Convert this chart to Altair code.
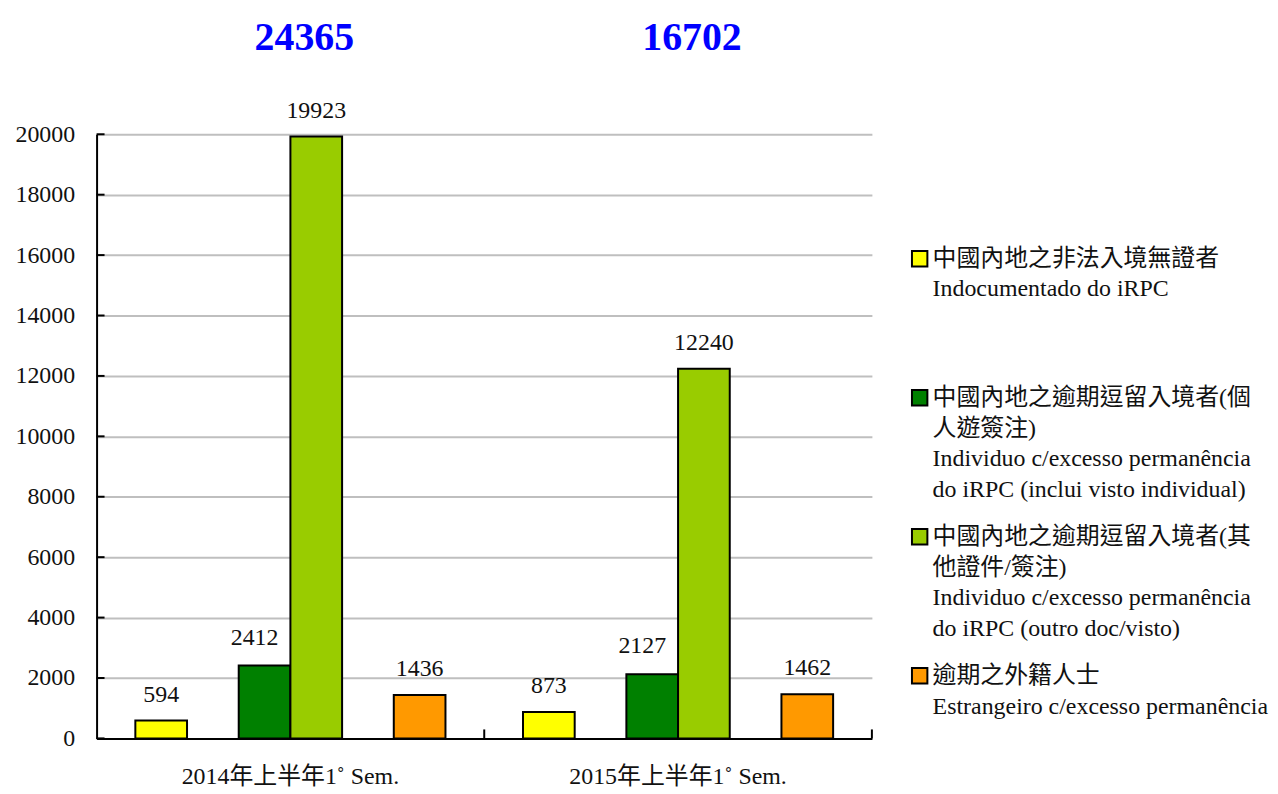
import altair as alt
import pandas as pd

# ---------------- data ----------------
groups = ["2014年上半年1˚ Sem.", "2015年上半年1˚ Sem."]
series = ["Indocumentado", "Individual", "Outro", "Estrangeiro"]
slots = ["0", "2", "3", "5"]          # position of each series within a group
values_2014 = [594, 2412, 19923, 1436]
values_2015 = [873, 2127, 12240, 1462]
totals = [24365, 16702]
colors = ["#FFFF00", "#008000", "#99CC00", "#FF9900"]
y_ticks = [0, 2000, 4000, 6000, 8000, 10000, 12000, 14000, 16000, 18000, 20000]

legend_1 = ["中國內地之非法入境無證者", "Indocumentado do iRPC"]
legend_2 = ["中國內地之逾期逗留入境者(個", "人遊簽注)",
            "Individuo c/excesso permanência", "do iRPC (inclui visto individual)"]
legend_3 = ["中國內地之逾期逗留入境者(其", "他證件/簽注)",
            "Individuo c/excesso permanência", "do iRPC (outro doc/visto)"]
legend_4 = ["逾期之外籍人士", "Estrangeiro c/excesso permanência"]

# ---------------- tables ----------------
rows = []
for g, vals in zip(groups, [values_2014, values_2015]):
    for s, sl, v in zip(series, slots, vals):
        rows.append({"group": g, "series": s, "slot": sl, "value": v})
bars_df = pd.DataFrame(rows)
tot_df = pd.DataFrame({"group": groups, "total": totals})
tick_df = pd.DataFrame({"v": y_ticks})

# legend layout (pixel positions in plot coordinates)
W, H = 779, 607
ENTRY_TOP = 125
ENTRY_STEP = 139.7
LINE_STEP = 31
sq_rows, txt_rows = [], []
for i, (lines, col) in enumerate(zip([legend_1, legend_2, legend_3, legend_4], colors)):
    top = ENTRY_TOP + i * ENTRY_STEP
    sq_rows.append({"py": top, "color": col})
    for j, t in enumerate(lines):
        txt_rows.append({"py": top + j * LINE_STEP, "line": t})
sq_df = pd.DataFrame(sq_rows)
txt_df = pd.DataFrame(txt_rows)

FONT = "'Liberation Serif', 'Noto Sans CJK TC', serif"

x_enc = alt.X("group:N", sort=groups, title=None,
              scale=alt.Scale(paddingInner=0, paddingOuter=0),
              axis=alt.Axis(labelAngle=0, ticks=False, grid=False, labelFont=FONT,
                            labelFontSize=24, labelLimit=0,
                            labelColor="#111", labelPadding=26, domainColor="black",
                            domainWidth=2))
xoff = alt.XOffset("slot:N", scale=alt.Scale(domain=["0", "1", "2", "3", "4", "5"],
                                             paddingInner=0, paddingOuter=0.75))
y_scale = alt.Scale(domain=[0, 20000], nice=False)

base = alt.Chart(bars_df)

bars = base.mark_bar(stroke="black", strokeWidth=2).encode(
    x=x_enc,
    xOffset=xoff,
    y=alt.Y("value:Q", scale=y_scale, title=None,
            axis=alt.Axis(values=y_ticks, format="d", ticks=False, grid=True,
                          labelFont=FONT, labelFontSize=24,
                          labelColor="#111", labelPadding=22, domainColor="black",
                          domainWidth=2, gridColor="#BFBFBF", gridWidth=2)),
    color=alt.Color("series:N", scale=alt.Scale(domain=series, range=colors), legend=None),
)

labels = base.transform_filter(alt.datum.series != "Individual").mark_text(
    font=FONT, fontSize=24, color="#111", baseline="alphabetic", dy=-19
).encode(
    x=alt.X("group:N", sort=groups),
    xOffset=xoff,
    y=alt.Y("value:Q", scale=y_scale),
    text="value:Q",
)
labels_dg = base.transform_filter(alt.datum.series == "Individual").mark_text(
    font=FONT, fontSize=24, color="#111", baseline="alphabetic", dy=-21, dx=-10
).encode(
    x=alt.X("group:N", sort=groups),
    xOffset=xoff,
    y=alt.Y("value:Q", scale=y_scale),
    text="value:Q",
)

ytick_rules = alt.Chart(tick_df).mark_rule(color="black", strokeWidth=2).encode(
    y=alt.Y("v:Q", scale=y_scale),
    x=alt.value(0),
    x2=alt.value(8),
)

xtick_rules = alt.Chart(tot_df).mark_rule(color="black", strokeWidth=2).encode(
    x=alt.X("group:N", sort=groups, bandPosition=1),
    y=alt.value(H - 9),
    y2=alt.value(H),
)

total_text = alt.Chart(tot_df).mark_text(
    font=FONT, fontSize=40, fontWeight="bold", color="#0000FF", baseline="middle", dx=14
).encode(
    x=alt.X("group:N", sort=groups),
    y=alt.value(-97),
    text="total:Q",
)

main = alt.layer(ytick_rules, bars, labels, labels_dg, xtick_rules, total_text)

leg_sq = alt.Chart(sq_df).mark_square(size=240, stroke="black", strokeWidth=2,
                                      opacity=1, filled=True).encode(
    x=alt.value(827),
    y=alt.Y("py:Q", scale=None, axis=None),
    fill=alt.Color("color:N", scale=None),
)
leg_txt = alt.Chart(txt_df).mark_text(
    font=FONT, fontSize=24, color="#111", align="left", baseline="middle"
).encode(
    x=alt.value(840),
    y=alt.Y("py:Q", scale=None, axis=None),
    text="line:N",
)
legend = alt.layer(leg_sq, leg_txt)

chart = alt.layer(main, legend).resolve_scale(
    y="independent", color="independent"
).properties(
    width=W, height=H,
    autosize=alt.AutoSizeParams(type="none"),
    padding={"left": 89, "top": 125, "right": 400, "bottom": 54},
).configure_view(stroke=None).configure_axis(
    labelFont=FONT, labelFontSize=24
).configure_text(font=FONT)

chart.save("out.html", embed_options={"renderer": "svg", "actions": False})
